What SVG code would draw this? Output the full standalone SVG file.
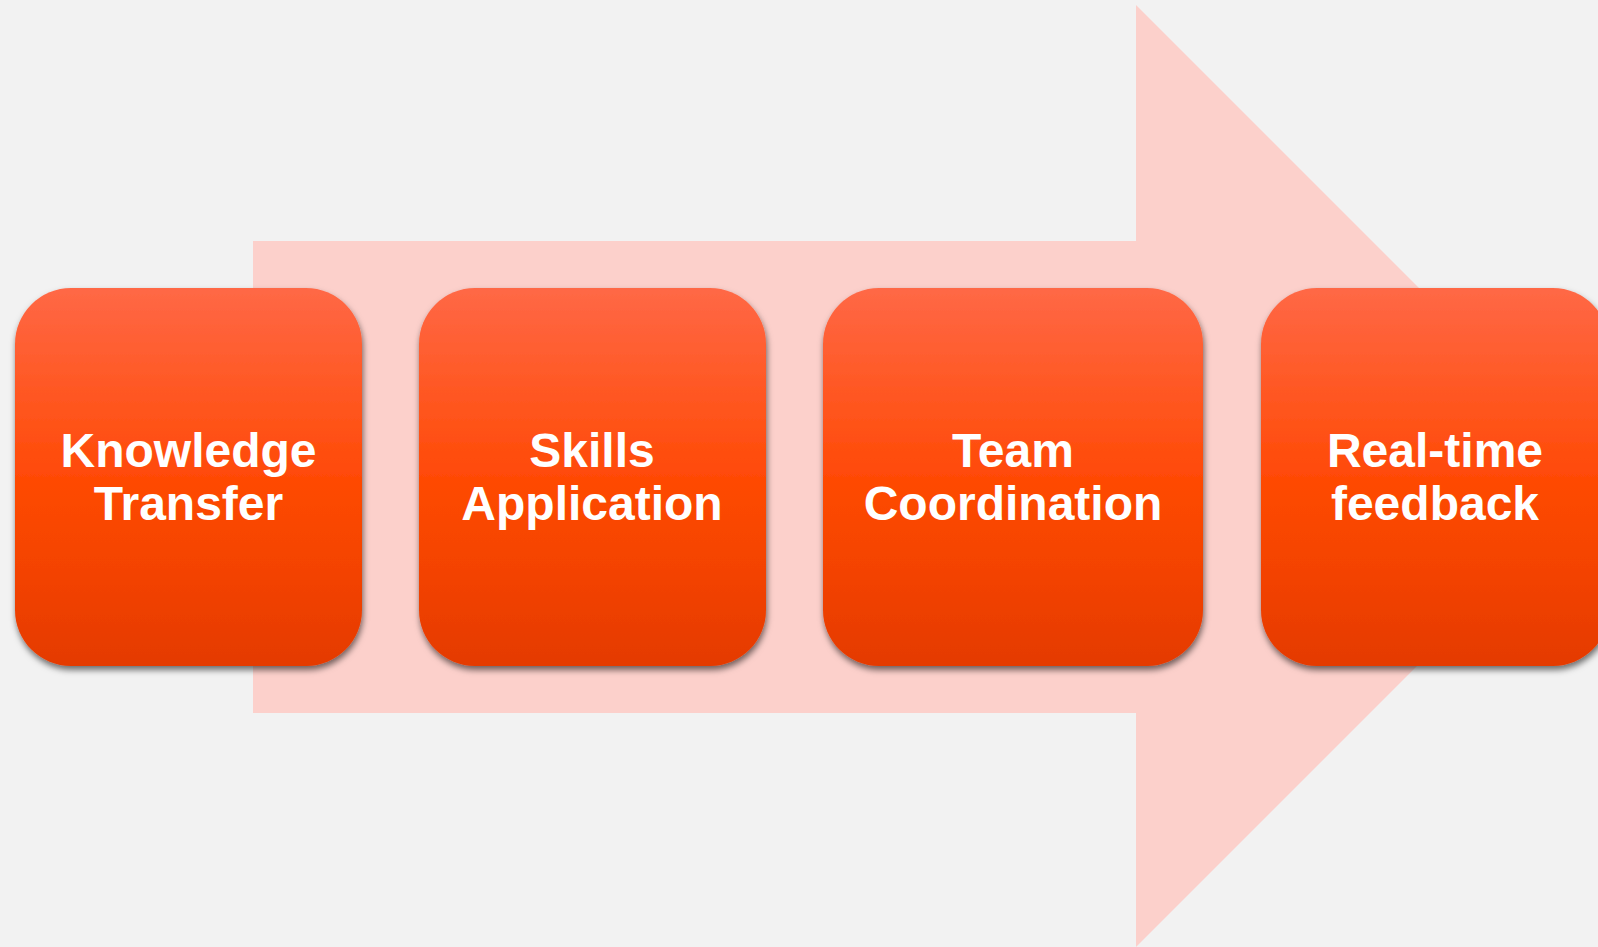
<svg xmlns="http://www.w3.org/2000/svg" width="1598" height="947" viewBox="0 0 1598 947">
  <style>
    .step { fill: url(#stepFill); filter: url(#stepShadow); }
    .label { font-family: "Liberation Sans", Arial, sans-serif; font-weight: bold; font-size: 48px; fill: #ffffff; text-anchor: middle; }
  </style>
  <defs>
    <linearGradient id="stepFill" x1="0" y1="0" x2="0" y2="1">
      <stop offset="0" stop-color="#ff6846"/>
      <stop offset="0.5" stop-color="#ff4a06"/>
      <stop offset="0.78" stop-color="#f24200"/>
      <stop offset="1" stop-color="#e43a00"/>
    </linearGradient>
    <filter id="stepShadow" x="-10%" y="-10%" width="120%" height="125%">
      <feDropShadow dx="1" dy="4" stdDeviation="3" flood-color="#000000" flood-opacity="0.55"/>
    </filter>
  </defs>

  <!-- background -->
  <rect x="0" y="0" width="1598" height="947" fill="#f2f2f2"/>

  <!-- big process arrow behind the steps -->
  <g id="connectors">
    <path d="M253 241 H1136 V5 L1607 476 L1136 947 V713 H253 Z" fill="#fcd0cb"/>
  </g>

  <g id="step-knowledge-transfer">
    <rect class="step" x="15" y="288" width="347" height="378" rx="56" ry="56"/>
    <text class="label" x="188.5" y="467">Knowledge</text>
    <text class="label" x="188.5" y="520">Transfer</text>
  </g>

  <g id="step-skills-application">
    <rect class="step" x="419" y="288" width="347" height="378" rx="56" ry="56"/>
    <text class="label" x="592" y="467">Skills</text>
    <text class="label" x="592" y="520">Application</text>
  </g>

  <g id="step-team-coordination">
    <rect class="step" x="823" y="288" width="380" height="378" rx="56" ry="56"/>
    <text class="label" x="1013" y="467">Team</text>
    <text class="label" x="1013" y="520">Coordination</text>
  </g>

  <g id="step-real-time-feedback">
    <rect class="step" x="1261" y="288" width="348" height="378" rx="56" ry="56"/>
    <text class="label" x="1435" y="467">Real-time</text>
    <text class="label" x="1435" y="520">feedback</text>
  </g>
</svg>
